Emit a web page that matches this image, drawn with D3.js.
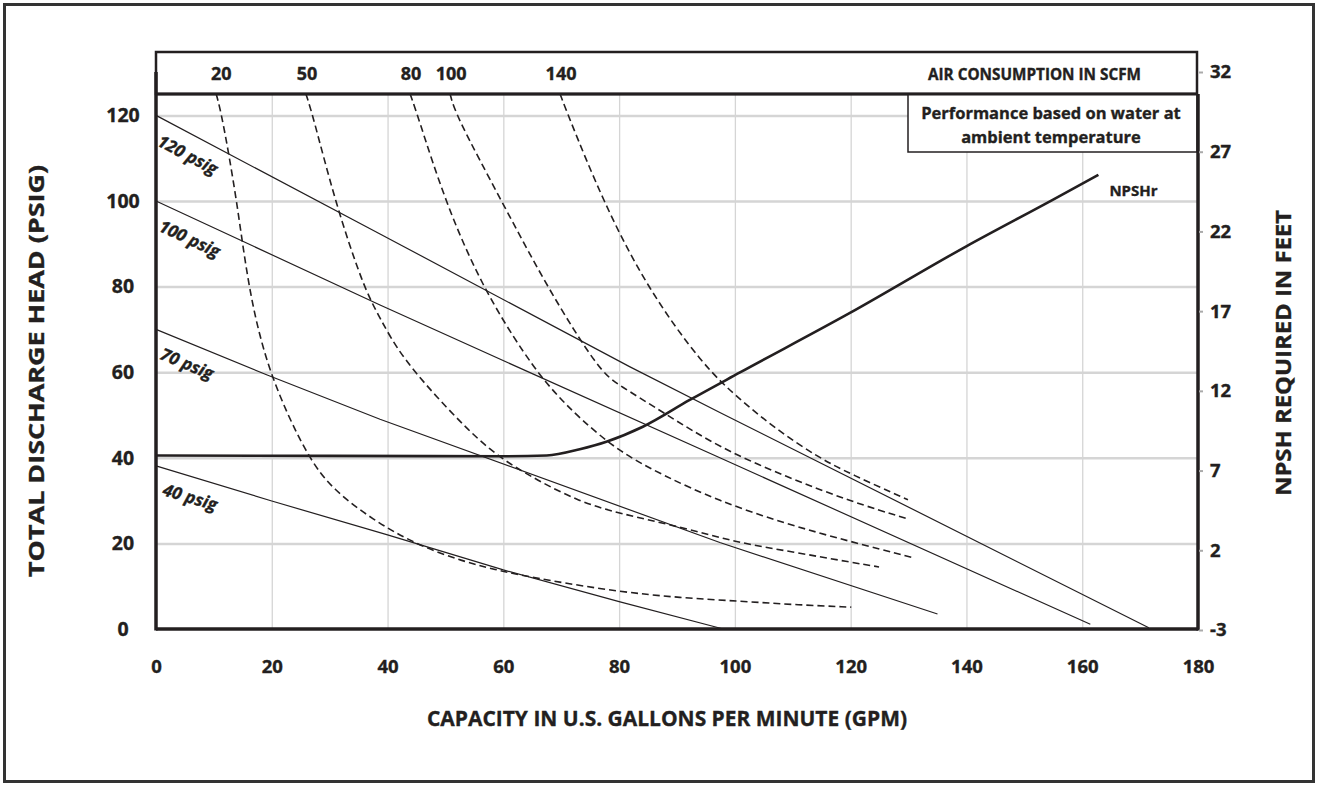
<!DOCTYPE html>
<html>
<head>
<meta charset="utf-8">
<script src="https://cdn.jsdelivr.net/npm/d3@7"></script>
<style>
  body { margin: 0; background: #fff; }
  text { font-family: "Open Sans", sans-serif; font-weight: 700; fill: #231f20;
         stroke: #231f20; stroke-width: 0.35px; }
  .grid line { stroke: #d5d5d5; }
  .grid .domain { stroke: none; }
  .axis .domain { stroke: none; }
</style>
</head>
<body>
<svg id="chart" width="1319" height="787"></svg>
<script>
// ---- data ----
const capacityTicks = [0, 20, 40, 60, 80, 100, 120, 140, 160, 180];
const headTicks = [0, 20, 40, 60, 80, 100, 120];
const npshTicks = [-3, 2, 7, 12, 17, 22, 27, 32];

// discharge pressure lines [gpm, psig]
const psigNames = ["120 psig", "100 psig", "70 psig", "40 psig"];
const psig120 = [[0, 120], [38.7, 92.3], [81.8, 61.3], [97.4, 50.6], [171.5, 0.3]];
const psig100 = [[0, 100], [38.7, 75.7], [62.3, 61.3], [97.4, 40], [161.4, 1.1]];
const psig70 = [[0, 70], [19.1, 59.4], [38.7, 49.0], [97.4, 20.2], [135, 3.5]];
const psig40 = [[0, 38.1], [20, 29.9], [40, 22.0], [60, 13.8], [80, 6.4], [98, 0]];

// air consumption curves [gpm, psig]
const scfmNames = ["20", "50", "80", "100", "140"];
const scfm20 = [[10.4, 125], [11.4, 120], [14.0, 100], [15.9, 80], [19.3, 60], [26.2, 40], [30.6, 32.5],
  [37.5, 25.5], [44.5, 20], [53.1, 15.7], [60, 13.4], [67.5, 11.4], [80, 8.7], [90.5, 7.3], [100.8, 6.5],
  [110, 5.7], [120.1, 5.1]];
const scfm50 = [[25.9, 125], [27.1, 120], [30.9, 100], [35.8, 80], [38.7, 72.6], [42.4, 63.5], [50.2, 51.6],
  [57.7, 41.4], [65.2, 35.2], [73.2, 29.7], [80, 27], [90.5, 23.9], [100, 20.3], [110, 18], [120, 15.6],
  [124.9, 14.5]];
const scfm80 = [[43.9, 125], [45.2, 120], [49.9, 100], [56.3, 80], [64.0, 63.3], [68.6, 55.5], [73.2, 49.2],
  [80, 41.4], [87.6, 35.9], [97, 30], [109, 24.5], [120, 20.4], [130.7, 16.7]];
const scfm100 = [[50.8, 125], [51.8, 120], [59.7, 100], [67.5, 80], [76.7, 60], [80, 57], [87.6, 50.6],
  [97.4, 42.3], [109, 35.5], [120, 29.8], [129.9, 25.7]];
const scfm140 = [[69.8, 125], [71.2, 120], [77.2, 100], [84.7, 80], [94.5, 61.5], [100.9, 53.6],
  [107, 46.8], [114.5, 40], [120, 36.2], [129.9, 30.2]];

// NPSH required, in feet (right axis)
const npshGpm = [0, 30, 60, 67.5, 73.2, 77.8, 84.1, 92.2, 100.8, 119.8, 139.9, 154.9, 162.8];
const npshFeet = [7.95, 7.92, 7.9, 7.95, 8.34, 8.81, 9.75, 11.43, 13.14, 16.87, 21.05, 23.98, 25.55];

// ---- layout ----
const pLeft = 156, pRight = 1198, pTop = 94, pBottom = 629, bandTop = 52;
const ink = "#231f20";

const svg = d3.select("#chart");
const x = d3.scaleLinear().domain([0, 180]).range([pLeft, pRight]);
const y = d3.scaleLinear().domain([0, 125]).range([pBottom, pTop]);
const yFt = d3.scaleLinear().domain([-3, 32]).range([630, 72]);

// outer frame
svg.append("rect")
   .attr("x", 4.5).attr("y", 4.5).attr("width", 1309).attr("height", 777)
   .attr("fill", "none").attr("stroke", "#333").attr("stroke-width", 3);

// gridlines
svg.append("g")
   .attr("class", "grid")
   .attr("transform", `translate(${pLeft},0)`)
   .call(d3.axisLeft(y).tickValues(headTicks.filter(d => d > 0)).tickFormat("").tickSize(-(pRight - pLeft)))
   .selectAll("line").attr("stroke-width", 2.5);
svg.append("g")
   .attr("class", "grid")
   .attr("transform", `translate(0,${pBottom})`)
   .call(d3.axisBottom(x).tickValues(capacityTicks.slice(1, -1)).tickFormat("").tickSize(-(pBottom - pTop)))
   .selectAll("line").attr("stroke-width", 1.3);

const line = d3.line().x(d => x(d[0])).y(d => y(d[1]));
const smooth = d3.line().x(d => x(d[0])).y(d => y(d[1])).curve(d3.curveBasis);

// pressure lines + rotated labels
const psigLines = [psig120, psig100, psig70, psig40];
psigLines.forEach((pts, i) => {
    svg.append("path").datum(pts)
       .attr("d", line)
       .attr("fill", "none").attr("stroke", ink).attr("stroke-width", 1.2);
    let x0 = x(pts[0][0]), y0 = y(pts[0][1]);
    let ang = Math.atan2(y(pts[1][1]) - y0, x(pts[1][0]) - x0) * 180 / Math.PI;
    svg.append("text")
       .attr("transform", `translate(${x0},${y0}) rotate(${ang})`)
       .attr("x", 14).attr("y", 26)
       .style("font-style", "italic")
       .style("font-size", "17px")
       .text(psigNames[i]);
});

// air consumption curves
const scfmCurves = [scfm20, scfm50, scfm80, scfm100, scfm140];
svg.selectAll("path.scfm").data(scfmCurves)
   .join("path")
   .attr("class", "scfm")
   .attr("d", smooth)
   .attr("fill", "none")
   .attr("stroke", ink)
   .attr("stroke-width", 1.6)
   .attr("stroke-dasharray", "7,4");

// NPSHr
const npsh = npshGpm.map((g, i) => [g, npshFeet[i]]);
const npshLine = d3.line().x(d => x(d[0])).y(d => yFt(d[1])).curve(d3.curveMonotoneX);
svg.append("path").datum(npsh)
   .attr("d", npshLine)
   .attr("fill", "none").attr("stroke", ink).attr("stroke-width", 2.6);
let last = npsh[npsh.length - 1];
svg.append("text")
   .attr("x", x(last[0]) + 11).attr("y", yFt(last[1]) + 21)
   .style("font-size", "15px")
   .text("NPSHr");

// top band
svg.append("rect")
   .attr("x", pLeft).attr("y", bandTop).attr("width", pRight - 1 - pLeft).attr("height", pTop - bandTop)
   .attr("fill", "none").attr("stroke", ink).attr("stroke-width", 2.5);
svg.selectAll("text.scfm").data(scfmCurves)
   .join("text")
   .attr("class", "scfm")
   .attr("x", d => x(d[0][0]) + (d[0][0] < 15 ? 5 : 1))
   .attr("y", 80)
   .attr("text-anchor", "middle")
   .style("font-size", "18px")
   .text((d, i) => scfmNames[i]);
svg.append("text")
   .attr("x", 1141).attr("y", 80)
   .attr("text-anchor", "end")
   .style("font-size", "15.3px")
   .text("AIR CONSUMPTION IN SCFM");

// info box
svg.append("rect")
   .attr("x", 908).attr("y", pTop).attr("width", pRight - 1 - 908).attr("height", 58)
   .attr("fill", "#fff").attr("stroke", ink).attr("stroke-width", 1.5);
svg.append("text").attr("x", 1051).attr("y", 119).attr("text-anchor", "middle")
   .style("font-size", "16.5px").text("Performance based on water at");
svg.append("text").attr("x", 1051).attr("y", 143).attr("text-anchor", "middle")
   .style("font-size", "16.5px").text("ambient temperature");

// plot frame
svg.append("line").attr("x1", pLeft).attr("x2", pLeft).attr("y1", 72).attr("y2", pBottom + 1.5)
   .attr("stroke", ink).attr("stroke-width", 3.5);
svg.append("line").attr("x1", pLeft).attr("x2", pRight).attr("y1", pBottom).attr("y2", pBottom)
   .attr("stroke", ink).attr("stroke-width", 3.5);
svg.append("line").attr("x1", pRight).attr("x2", pRight).attr("y1", pTop).attr("y2", pBottom + 1.5)
   .attr("stroke", ink).attr("stroke-width", 3.5);
svg.append("line").attr("x1", pLeft).attr("x2", pRight).attr("y1", pTop).attr("y2", pTop)
   .attr("stroke", ink).attr("stroke-width", 3);

// axes
let leftAxis = svg.append("g").attr("class", "axis")
   .attr("transform", `translate(${pLeft},0)`)
   .call(d3.axisLeft(y).tickValues(headTicks).tickSize(0));
leftAxis.selectAll("text")
   .attr("x", 123 - pLeft).attr("text-anchor", "middle")
   .style("font-size", "19.5px").style("font-family", "'Open Sans', sans-serif");

let bottomAxis = svg.append("g").attr("class", "axis")
   .attr("transform", `translate(0,${pBottom})`)
   .call(d3.axisBottom(x).tickValues(capacityTicks).tickSize(0).tickPadding(31));
bottomAxis.selectAll("text")
   .style("font-size", "18.5px").style("font-family", "'Open Sans', sans-serif");

let rightAxis = svg.append("g").attr("class", "axis")
   .attr("transform", `translate(${pRight + 1},0)`)
   .call(d3.axisRight(yFt).tickValues(npshTicks).tickFormat(d => String(d)).tickSize(4).tickPadding(7));
rightAxis.selectAll("line").attr("stroke", "#aaa").attr("stroke-width", 2);
rightAxis.selectAll("text")
   .style("font-size", "18.5px").style("font-family", "'Open Sans', sans-serif");

// axis titles
svg.append("text")
   .attr("x", 667).attr("y", 726)
   .attr("text-anchor", "middle")
   .attr("textLength", 480).attr("lengthAdjust", "spacingAndGlyphs")
   .style("font-size", "21px")
   .text("CAPACITY IN U.S. GALLONS PER MINUTE (GPM)");
svg.append("text")
   .attr("transform", "translate(44,371) rotate(-90)")
   .attr("text-anchor", "middle")
   .attr("textLength", 412).attr("lengthAdjust", "spacingAndGlyphs")
   .style("font-size", "21px")
   .text("TOTAL DISCHARGE HEAD (PSIG)");
svg.append("text")
   .attr("transform", "translate(1291,353) rotate(-90)")
   .attr("text-anchor", "middle")
   .attr("textLength", 286).attr("lengthAdjust", "spacingAndGlyphs")
   .style("font-size", "21px")
   .text("NPSH REQUIRED IN FEET");
</script>
</body>
</html>
